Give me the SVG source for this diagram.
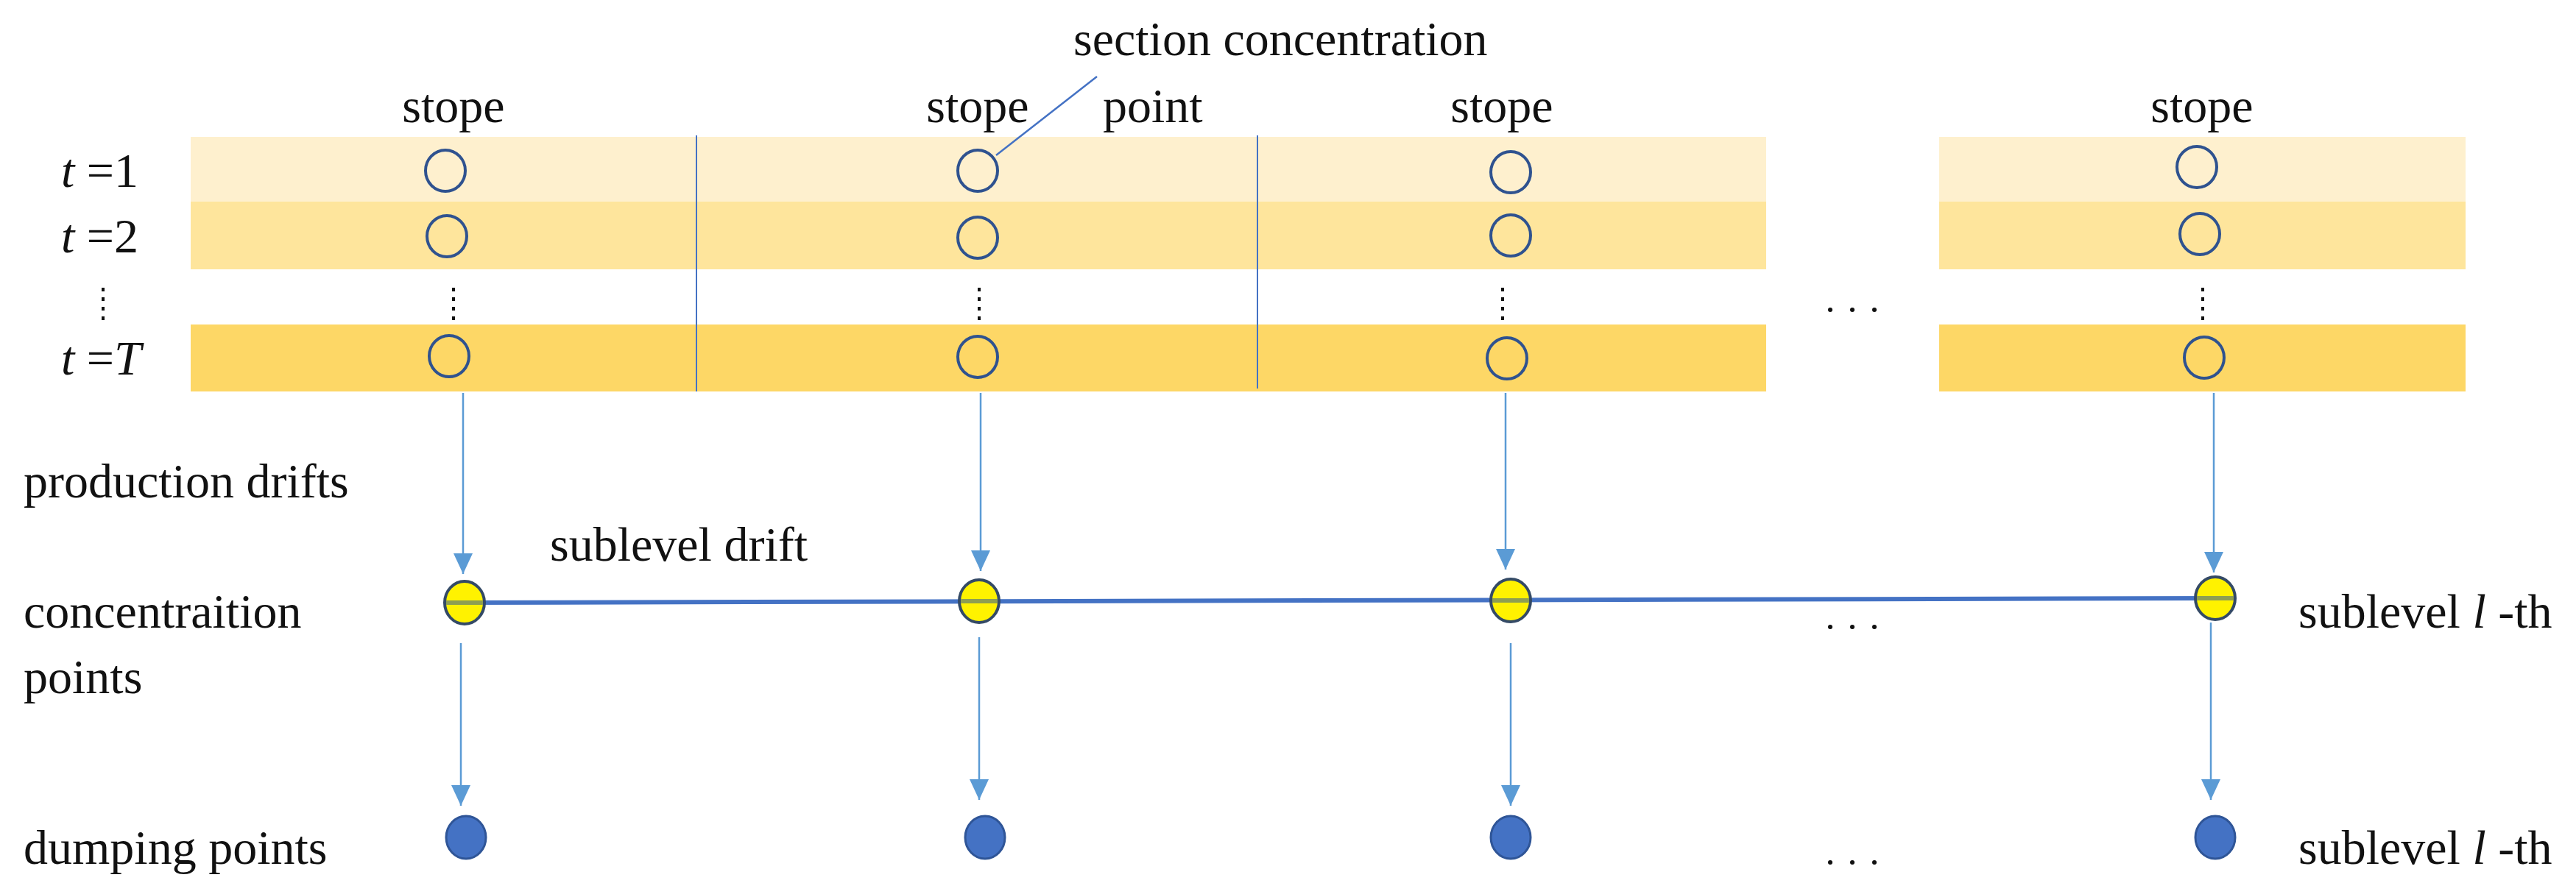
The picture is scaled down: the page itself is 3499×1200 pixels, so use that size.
<svg xmlns="http://www.w3.org/2000/svg" width="3499" height="1200" viewBox="0 0 3499 1200">
  <style>
    text { font-family: "Liberation Serif", "Times New Roman", serif; font-size: 66px; fill: #111; }
    .mid { text-anchor: middle; }
    .it { font-style: italic; }
    .band1 { fill: #FEF0CE; }
    .band2 { fill: #FEE59C; }
    .band3 { fill: #FDD766; }
    .divider { stroke: #4472C4; stroke-width: 2; }
    .stope-pt { fill: none; stroke: #2F528F; stroke-width: 4; }
    .vdots { stroke: #111; stroke-width: 4; stroke-dasharray: 5 8; }
    .hdots { fill: #111; }
    .flow { stroke: #5B9BD5; stroke-width: 2.5; fill: none; marker-end: url(#head); }
    .drift { stroke: #4472C4; stroke-width: 6; fill: none; }
    .conc { fill: #FFF200; stroke: #344A66; stroke-width: 4; }
    .conc-band { stroke: #8E9E52; stroke-width: 6; }
    .dump { fill: #4472C4; stroke: #2F5597; stroke-width: 3; }
    .leader { stroke: #4472C4; stroke-width: 2.5; }
  </style>
  <defs>
    <marker id="head" markerUnits="userSpaceOnUse" markerWidth="28" markerHeight="30" refX="28" refY="13" orient="auto">
      <path d="M0,0 L28,13 L0,26 Z" fill="#5B9BD5"/>
    </marker>
  </defs>

  <rect width="3499" height="1200" fill="#fff"/>

  <!-- time bands -->
  <g id="bands">
    <rect class="band1" x="259" y="186" width="2140" height="88"/>
    <rect class="band2" x="259" y="274" width="2140" height="92"/>
    <rect class="band3" x="259" y="441" width="2140" height="91"/>
    <rect class="band1" x="2634" y="186" width="715" height="88"/>
    <rect class="band2" x="2634" y="274" width="715" height="92"/>
    <rect class="band3" x="2634" y="441" width="715" height="91"/>
    <line class="divider" x1="946" y1="184" x2="946" y2="532"/>
    <line class="divider" x1="1708" y1="184" x2="1708" y2="528"/>
  </g>

  <!-- row labels -->
  <g id="time-labels">
    <text x="83" y="254"><tspan class="it">t</tspan> =1</text>
    <text x="83" y="343"><tspan class="it">t</tspan> =2</text>
    <line class="vdots" x1="140" y1="391" x2="140" y2="436"/>
    <text x="83" y="509"><tspan class="it">t</tspan> =<tspan class="it">T</tspan></text>
  </g>

  <!-- stopes -->
  <g id="stope-1">
    <text class="mid" x="616" y="166">stope</text>
    <ellipse class="stope-pt" cx="605" cy="232" rx="27" ry="28"/>
    <ellipse class="stope-pt" cx="607" cy="321" rx="27" ry="28"/>
    <line class="vdots" x1="616" y1="391" x2="616" y2="436"/>
    <ellipse class="stope-pt" cx="610" cy="484" rx="27" ry="28"/>
  </g>
  <g id="stope-2">
    <text class="mid" x="1328" y="166">stope</text>
    <ellipse class="stope-pt" cx="1328" cy="232" rx="27" ry="28"/>
    <ellipse class="stope-pt" cx="1328" cy="323" rx="27" ry="28"/>
    <line class="vdots" x1="1330" y1="391" x2="1330" y2="436"/>
    <ellipse class="stope-pt" cx="1328" cy="485" rx="27" ry="28"/>
  </g>
  <g id="stope-3">
    <text class="mid" x="2040" y="166">stope</text>
    <ellipse class="stope-pt" cx="2052" cy="234" rx="27" ry="28"/>
    <ellipse class="stope-pt" cx="2052" cy="320" rx="27" ry="28"/>
    <line class="vdots" x1="2041" y1="391" x2="2041" y2="436"/>
    <ellipse class="stope-pt" cx="2047" cy="487" rx="27" ry="28"/>
  </g>
  <g id="stope-4">
    <text class="mid" x="2991" y="166">stope</text>
    <ellipse class="stope-pt" cx="2984" cy="227" rx="27" ry="28"/>
    <ellipse class="stope-pt" cx="2988" cy="318" rx="27" ry="28"/>
    <line class="vdots" x1="2992" y1="391" x2="2992" y2="436"/>
    <ellipse class="stope-pt" cx="2994" cy="486" rx="27" ry="28"/>
  </g>

  <!-- callout -->
  <g id="callout">
    <text x="1458" y="75">section concentration</text>
    <text x="1498" y="166">point</text>
    <line class="leader" x1="1490" y1="104" x2="1353" y2="211"/>
  </g>

  <!-- ellipses between columns -->
  <g id="ellipses">
    <circle class="hdots" cx="2486" cy="421" r="3"/>
    <circle class="hdots" cx="2516" cy="421" r="3"/>
    <circle class="hdots" cx="2546" cy="421" r="3"/>
    <circle class="hdots" cx="2486" cy="852" r="3"/>
    <circle class="hdots" cx="2516" cy="852" r="3"/>
    <circle class="hdots" cx="2546" cy="852" r="3"/>
    <circle class="hdots" cx="2486" cy="1172" r="3"/>
    <circle class="hdots" cx="2516" cy="1172" r="3"/>
    <circle class="hdots" cx="2546" cy="1172" r="3"/>
  </g>

  <!-- connectors -->
  <g id="connectors">
    <line class="drift" x1="631" y1="819" x2="3009" y2="813"/>
    <line class="flow" x1="629" y1="534" x2="629" y2="780"/>
    <line class="flow" x1="1332" y1="534" x2="1332" y2="776"/>
    <line class="flow" x1="2045" y1="534" x2="2045" y2="774"/>
    <line class="flow" x1="3007" y1="534" x2="3007" y2="778"/>
    <line class="flow" x1="626" y1="874" x2="626" y2="1095"/>
    <line class="flow" x1="1330" y1="866" x2="1330" y2="1087"/>
    <line class="flow" x1="2052" y1="874" x2="2052" y2="1095"/>
    <line class="flow" x1="3003" y1="846" x2="3003" y2="1087"/>
  </g>

  <!-- concentration points -->
  <g id="conc-1">
    <ellipse class="conc" cx="631" cy="819" rx="27" ry="29"/>
    <line class="conc-band" x1="606" y1="819" x2="656" y2="819"/>
  </g>
  <g id="conc-2">
    <ellipse class="conc" cx="1330" cy="817" rx="27" ry="29"/>
    <line class="conc-band" x1="1305" y1="817" x2="1355" y2="817"/>
  </g>
  <g id="conc-3">
    <ellipse class="conc" cx="2052" cy="816" rx="27" ry="29"/>
    <line class="conc-band" x1="2027" y1="816" x2="2077" y2="816"/>
  </g>
  <g id="conc-4">
    <ellipse class="conc" cx="3009" cy="813" rx="27" ry="29"/>
    <line class="conc-band" x1="2984" y1="813" x2="3034" y2="813"/>
  </g>

  <!-- dumping points -->
  <g id="dump-1"><ellipse class="dump" cx="633" cy="1138" rx="27" ry="29"/></g>
  <g id="dump-2"><ellipse class="dump" cx="1338" cy="1138" rx="27" ry="29"/></g>
  <g id="dump-3"><ellipse class="dump" cx="2052" cy="1138" rx="27" ry="29"/></g>
  <g id="dump-4"><ellipse class="dump" cx="3009" cy="1138" rx="27" ry="29"/></g>

  <!-- side labels -->
  <g id="labels">
    <text x="32" y="676">production drifts</text>
    <text x="747" y="762">sublevel drift</text>
    <text x="32" y="853">concentraition</text>
    <text x="32" y="942">points</text>
    <text x="32" y="1174">dumping points</text>
    <text x="3122" y="853">sublevel <tspan class="it">l</tspan> -th</text>
    <text x="3122" y="1174">sublevel <tspan class="it">l</tspan> -th</text>
  </g>
</svg>
